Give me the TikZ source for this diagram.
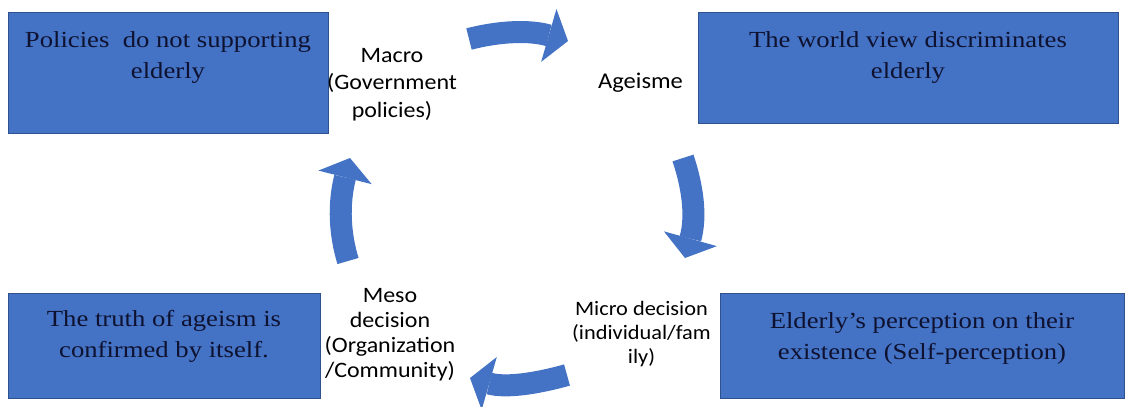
\documentclass[tikz,border=0pt]{standalone}
\usepackage{fontspec}
\setmainfont{Liberation Serif}
\newfontfamily\boxfont[FakeStretch=1.16]{Liberation Serif}
\newfontfamily\labfont[FakeStretch=1.09]{Carlito}
\usetikzlibrary{arrows.meta}
\definecolor{boxblue}{HTML}{4472C4}
\definecolor{boxline}{HTML}{2F528F}
\definecolor{boxtext}{HTML}{0E1230}
\begin{document}
\begin{tikzpicture}[x=1pt,y=-1pt,
  bluebox/.style={draw=boxline, line width=0.8pt, fill=boxblue, inner sep=0pt},
  boxtxt/.style={font=\boxfont\fontsize{23}{31}\selectfont, text=boxtext, align=center, inner sep=0pt, anchor=north},
  lab/.style={font=\labfont\fontsize{22}{27.5}\selectfont, text=black, align=center, inner sep=0pt},
  cyc/.style={draw=boxblue, line width=22pt, -{Triangle[length=20pt,width=55pt,line width=0pt]}}]
\fill[white] (0,0) rectangle (1125,407);
\useasboundingbox (0,0) rectangle (1125,407);

% boxes
\node[bluebox, minimum width=320pt, minimum height=121pt] (b1) at (168,72.5) {};
\node[bluebox, minimum width=420pt, minimum height=111pt] (b2) at (908,67.5) {};
\node[bluebox, minimum width=312pt, minimum height=105pt] (b3) at (164,345.5) {};
\node[bluebox, minimum width=404pt, minimum height=105pt] (b4) at (922,345.5) {};

\node[boxtxt] (t1) at ([yshift=-19.3pt]b1.north) {Policies~ do not supporting\\elderly};
\node[boxtxt] (t2) at ([yshift=-19.3pt]b2.north) {The world view discriminates\\elderly};
\node[boxtxt] (t3) at ([yshift=-17.3pt]b3.north) {The truth of ageism is\\confirmed by itself.};
\node[boxtxt] (t4) at ([yshift=-19.3pt]b4.north) {Elderly’s perception on their\\existence (Self-perception)};

% labels
\node[lab, anchor=north] (macro) at (392,47.8) {Macro\\(Government\\policies)};
\node[lab, anchor=base, font=\labfont\fontsize{22.5}{27}\selectfont] (age) at (640.5,88) {Ageisme};
\node[lab, anchor=north, font=\labfont\fontsize{20.5}{24}\selectfont] (micro) at (641.5,300.9) {Micro decision\\(individual/fam\\ily)};
\node[lab, anchor=north, font=\labfont\fontsize{22}{25}\selectfont] (meso) at (390,288) {Meso\\decision\\(Organization\\/Community)};

% cycle arrows
\coordinate (a1s) at (469,39);  \coordinate (a1e) at (568,41);
\coordinate (a2s) at (683,158); \coordinate (a2e) at (685,258);
\coordinate (a3s) at (567,375); \coordinate (a3e) at (470,378);
\coordinate (a4s) at (348,261); \coordinate (a4e) at (350,158);
\draw[cyc] (a1s) .. controls (500,31) and (530,30) .. (a1e);
\draw[cyc] (a2s) .. controls (692,185) and (697,215) .. (a2e);
\draw[cyc] (a3s) .. controls (535,384) and (505,388) .. (a3e);
\draw[cyc] (a4s) .. controls (340,235) and (338,205) .. (a4e);
\end{tikzpicture}
\end{document}
